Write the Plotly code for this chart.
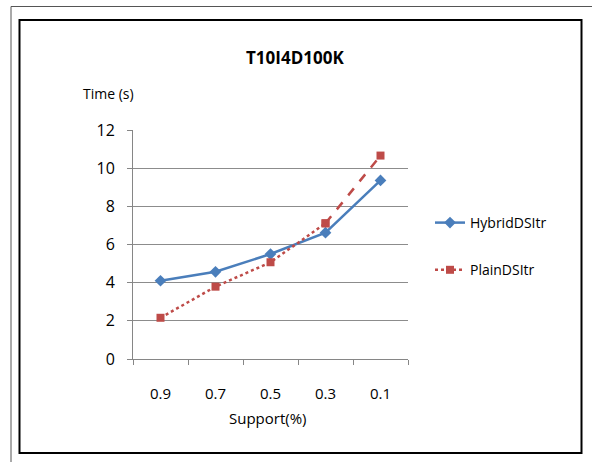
import plotly.graph_objects as go

# Mining time per minimum-support threshold, dataset T10I4D100K
support = ["0.9", "0.7", "0.5", "0.3", "0.1"]
hybrid_time = [4.1, 4.57, 5.5, 6.62, 9.36]
plain_time = [2.16, 3.79, 5.07, 7.11, 10.66]
y_ticks = [0, 2, 4, 6, 8, 10, 12]

BLUE = "#4A7EBB"
RED = "#BE4B48"
FONT = "Open Sans, Noto Sans, sans-serif"

W, H = 592, 462
L, R, T, B = 133, 408, 130, 359  # plot area in pixels


def px_x(x):
    return (x - L) / (R - L)


def px_y(y):
    return (B - y) / (B - T)


fig = go.Figure()

fig.add_trace(go.Scatter(
    x=support, y=hybrid_time, name="HybridDSItr", mode="lines+markers",
    line=dict(color=BLUE, width=2.5),
    marker=dict(symbol="diamond", size=9, color=BLUE),
    legendgroup="hybrid",
))
# PlainDSItr: dotted through 0.3, dashed for the last step to 0.1
fig.add_trace(go.Scatter(
    x=support[:-1], y=plain_time[:-1], name="PlainDSItr", mode="lines+markers",
    line=dict(color=RED, width=2.5, dash="dot"),
    marker=dict(symbol="square", size=8, color=RED),
    legendgroup="plain",
))
fig.add_trace(go.Scatter(
    x=support[-2:], y=plain_time[-2:], name="PlainDSItr", mode="lines+markers",
    line=dict(color=RED, width=2.5, dash="dash"),
    marker=dict(symbol="square", size=8, color=RED),
    legendgroup="plain", showlegend=False,
))

shapes = [
    # outer frame lines (top and left)
    dict(type="line", xref="paper", yref="paper",
         x0=px_x(11), x1=px_x(W), y0=px_y(6.5), y1=px_y(6.5),
         line=dict(color="#555555", width=1)),
    dict(type="line", xref="paper", yref="paper",
         x0=px_x(11), x1=px_x(11), y0=px_y(6.5), y1=px_y(H),
         line=dict(color="#555555", width=1)),
    # chart border
    dict(type="rect", xref="paper", yref="paper",
         x0=px_x(19.5), x1=px_x(581.5), y0=px_y(453), y1=px_y(20),
         line=dict(color="#000000", width=2)),
]


def label(text, x, y, size):
    return dict(text=text, xref="paper", yref="paper",
                x=px_x(x), y=px_y(y), xanchor="center", yanchor="middle",
                showarrow=False, font=dict(size=size, family=FONT))


fig.update_layout(
    width=W, height=H,
    margin=dict(l=L, r=W - R, t=T, b=H - B, pad=0),
    paper_bgcolor="white", plot_bgcolor="white",
    font=dict(family=FONT, color="#000000"),
    showlegend=True,
    legend=dict(
        x=px_x(430), y=px_y(207), xanchor="left", yanchor="top",
        font=dict(size=14, family=FONT), tracegroupgap=26,
        bgcolor="rgba(0,0,0,0)", itemwidth=30,
    ),
    shapes=shapes,
    annotations=[
        label("<b>T10I4D100K</b>", 295, 58, 17),
        label("Time (s)", 108, 93, 14),
        label("Support(%)", 268, 418, 15),
    ],
)

fig.update_xaxes(
    type="category", categoryorder="array", categoryarray=support,
    range=[-0.5, len(support) - 0.5],
    tickson="boundaries", ticks="outside", ticklen=5, tickcolor="#868686",
    showline=True, linecolor="#868686", linewidth=1,
    showgrid=False, tickfont=dict(size=15, family=FONT), ticklabelstandoff=21,
)
fig.update_yaxes(
    range=[0, 12], tickvals=y_ticks, ticks="outside", ticklen=5,
    tickcolor="#868686", showline=True, linecolor="#868686", linewidth=1,
    showgrid=True, gridcolor="#8C8C8C", gridwidth=1, zeroline=False,
    tickfont=dict(size=16, family=FONT), ticklabelstandoff=9,
)

fig.write_html("out.html")
